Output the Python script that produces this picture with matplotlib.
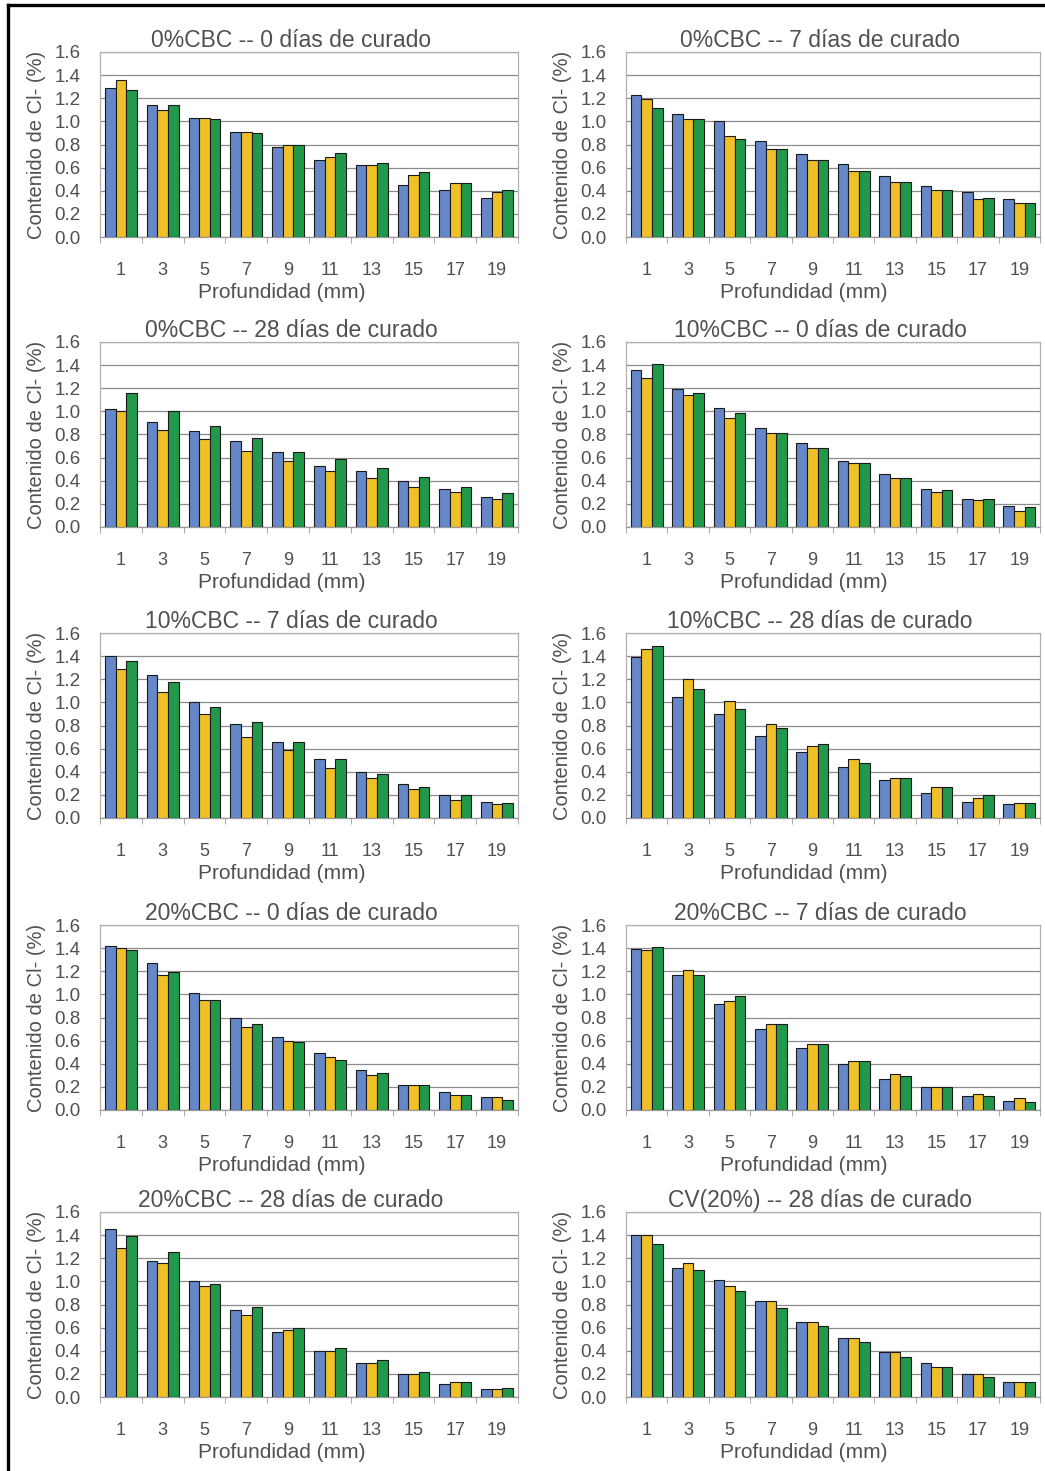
import matplotlib
matplotlib.use("Agg")
import matplotlib.pyplot as plt
from matplotlib.lines import Line2D
import numpy as np

plt.rcParams['font.family'] = ['Liberation Sans', 'DejaVu Sans']

depths = ["1", "3", "5", "7", "9", "11", "13", "15", "17", "19"]
yticks = [0.0, 0.2, 0.4, 0.6, 0.8, 1.0, 1.2, 1.4, 1.6]

titles = [
    "0%CBC -- 0 días de curado",
    "0%CBC -- 7 días de curado",
    "0%CBC -- 28 días de curado",
    "10%CBC -- 0 días de curado",
    "10%CBC -- 7 días de curado",
    "10%CBC -- 28 días de curado",
    "20%CBC -- 0 días de curado",
    "20%CBC -- 7 días de curado",
    "20%CBC -- 28 días de curado",
    "CV(20%) -- 28 días de curado",
]

# chloride content (%) per depth for the three specimens of each mix
cbc0_d0_a = [1.29, 1.14, 1.03, 0.91, 0.78, 0.67, 0.62, 0.45, 0.41, 0.34]
cbc0_d0_b = [1.36, 1.10, 1.03, 0.91, 0.80, 0.69, 0.62, 0.54, 0.47, 0.39]
cbc0_d0_c = [1.27, 1.14, 1.02, 0.90, 0.80, 0.73, 0.64, 0.56, 0.47, 0.41]

cbc0_d7_a = [1.23, 1.06, 1.00, 0.83, 0.72, 0.63, 0.53, 0.44, 0.39, 0.33]
cbc0_d7_b = [1.19, 1.02, 0.87, 0.76, 0.67, 0.57, 0.48, 0.41, 0.33, 0.29]
cbc0_d7_c = [1.12, 1.02, 0.85, 0.76, 0.67, 0.57, 0.48, 0.41, 0.34, 0.29]

cbc0_d28_a = [1.02, 0.91, 0.83, 0.74, 0.65, 0.53, 0.48, 0.40, 0.33, 0.26]
cbc0_d28_b = [1.00, 0.84, 0.76, 0.66, 0.57, 0.48, 0.42, 0.35, 0.30, 0.24]
cbc0_d28_c = [1.16, 1.00, 0.87, 0.77, 0.65, 0.59, 0.51, 0.43, 0.35, 0.29]

cbc10_d0_a = [1.36, 1.19, 1.03, 0.86, 0.73, 0.57, 0.46, 0.33, 0.24, 0.18]
cbc10_d0_b = [1.29, 1.14, 0.94, 0.81, 0.68, 0.55, 0.42, 0.30, 0.23, 0.14]
cbc10_d0_c = [1.41, 1.16, 0.99, 0.81, 0.68, 0.55, 0.42, 0.32, 0.24, 0.17]

cbc10_d7_a = [1.40, 1.24, 1.00, 0.81, 0.66, 0.51, 0.40, 0.29, 0.20, 0.14]
cbc10_d7_b = [1.29, 1.09, 0.90, 0.70, 0.59, 0.43, 0.35, 0.25, 0.16, 0.12]
cbc10_d7_c = [1.36, 1.18, 0.96, 0.83, 0.66, 0.51, 0.38, 0.27, 0.20, 0.13]

cbc10_d28_a = [1.39, 1.05, 0.90, 0.71, 0.57, 0.44, 0.33, 0.22, 0.14, 0.12]
cbc10_d28_b = [1.46, 1.20, 1.01, 0.81, 0.62, 0.51, 0.35, 0.27, 0.17, 0.13]
cbc10_d28_c = [1.49, 1.12, 0.94, 0.78, 0.64, 0.48, 0.35, 0.27, 0.20, 0.13]

cbc20_d0_a = [1.42, 1.27, 1.01, 0.80, 0.63, 0.49, 0.35, 0.22, 0.16, 0.11]
cbc20_d0_b = [1.40, 1.17, 0.95, 0.72, 0.60, 0.46, 0.30, 0.22, 0.13, 0.11]
cbc20_d0_c = [1.38, 1.19, 0.95, 0.74, 0.59, 0.43, 0.32, 0.22, 0.13, 0.09]

cbc20_d7_a = [1.39, 1.17, 0.92, 0.70, 0.54, 0.40, 0.27, 0.20, 0.12, 0.08]
cbc20_d7_b = [1.38, 1.21, 0.94, 0.74, 0.57, 0.42, 0.31, 0.20, 0.14, 0.10]
cbc20_d7_c = [1.41, 1.17, 0.99, 0.74, 0.57, 0.42, 0.29, 0.20, 0.12, 0.07]

cbc20_d28_a = [1.45, 1.18, 1.00, 0.75, 0.56, 0.40, 0.29, 0.20, 0.11, 0.07]
cbc20_d28_b = [1.29, 1.16, 0.96, 0.71, 0.58, 0.40, 0.29, 0.20, 0.13, 0.07]
cbc20_d28_c = [1.39, 1.25, 0.98, 0.78, 0.60, 0.42, 0.32, 0.22, 0.13, 0.08]

cv20_d28_a = [1.40, 1.12, 1.01, 0.83, 0.65, 0.51, 0.39, 0.29, 0.20, 0.13]
cv20_d28_b = [1.40, 1.16, 0.96, 0.83, 0.65, 0.51, 0.39, 0.26, 0.20, 0.13]
cv20_d28_c = [1.32, 1.10, 0.92, 0.77, 0.61, 0.48, 0.35, 0.26, 0.17, 0.13]

panels = [
    (cbc0_d0_a, cbc0_d0_b, cbc0_d0_c),
    (cbc0_d7_a, cbc0_d7_b, cbc0_d7_c),
    (cbc0_d28_a, cbc0_d28_b, cbc0_d28_c),
    (cbc10_d0_a, cbc10_d0_b, cbc10_d0_c),
    (cbc10_d7_a, cbc10_d7_b, cbc10_d7_c),
    (cbc10_d28_a, cbc10_d28_b, cbc10_d28_c),
    (cbc20_d0_a, cbc20_d0_b, cbc20_d0_c),
    (cbc20_d7_a, cbc20_d7_b, cbc20_d7_c),
    (cbc20_d28_a, cbc20_d28_b, cbc20_d28_c),
    (cv20_d28_a, cv20_d28_b, cv20_d28_c),
]

bar_colors = ["#6688C8", "#F0C028", "#22994A"]
text_color = "#505050"

W, H = 1045, 1471
fig = plt.figure(figsize=(W / 100, H / 100), dpi=100)

col_left = [100, 626]
col_width = [418, 414]
row_base = [237, 527, 818, 1110, 1397]
ax_height = 185
# titles and x labels sit centred on the whole chart block, a little left of the plot area
title_x = [0.457, 0.469]
xlabel_x = [0.435, 0.43]

x = np.arange(len(depths))
bw = 0.255

for i, (title, series) in enumerate(zip(titles, panels)):
    r, c = divmod(i, 2)
    left = col_left[c] / W
    bottom = 1 - row_base[r] / H
    ax = fig.add_axes([left, bottom, col_width[c] / W, ax_height / H])
    for k, vals in enumerate(series):
        ax.bar(x + (k - 1) * bw, vals, width=bw, color=bar_colors[k],
               edgecolor="#1a1a1a", linewidth=0.8, zorder=3)
    ax.set_xlim(-0.5, len(depths) - 0.5)
    ax.set_ylim(0, 1.6)
    ax.set_yticks(yticks)
    ax.set_yticklabels([f"{v:.1f}" for v in yticks], fontsize=13.5, color=text_color)
    ax.yaxis.grid(True, color="#8c8c8c", linewidth=0.9, zorder=0)
    ax.set_axisbelow(True)
    ax.set_xticks(x)
    ax.set_xticklabels(depths, fontsize=13, color=text_color)
    ax.set_xticks(np.arange(-0.5, len(depths)), minor=True)
    ax.tick_params(axis="x", which="major", length=0, pad=18)
    ax.tick_params(axis="x", which="minor", length=4, color="#9a9a9a", direction="out")
    ax.tick_params(axis="y", length=0, pad=14)
    for s in ax.spines.values():
        s.set_color("#b0b0b0")
        s.set_linewidth(0.9)
    ax.spines["bottom"].set_color("#9a9a9a")
    ax.set_xlabel("Profundidad (mm)", fontsize=15, color=text_color)
    ax.xaxis.set_label_coords(xlabel_x[c], -0.25)
    ax.set_ylabel("Contenido de Cl- (%)", fontsize=14.5, color=text_color, labelpad=6)
    ax.set_title(title, fontsize=16.5, color=text_color, pad=3, x=title_x[c])

# outer frame: top and left edges
y_top = 1 - 5 / H
x_left = 8 / W
fig.add_artist(Line2D([x_left, 1.0], [y_top, y_top], color="black", linewidth=2.4,
                      transform=fig.transFigure))
fig.add_artist(Line2D([x_left, x_left], [0.0, y_top], color="black", linewidth=2.4,
                      transform=fig.transFigure))

fig.savefig("out.png", dpi=100, facecolor="white")
